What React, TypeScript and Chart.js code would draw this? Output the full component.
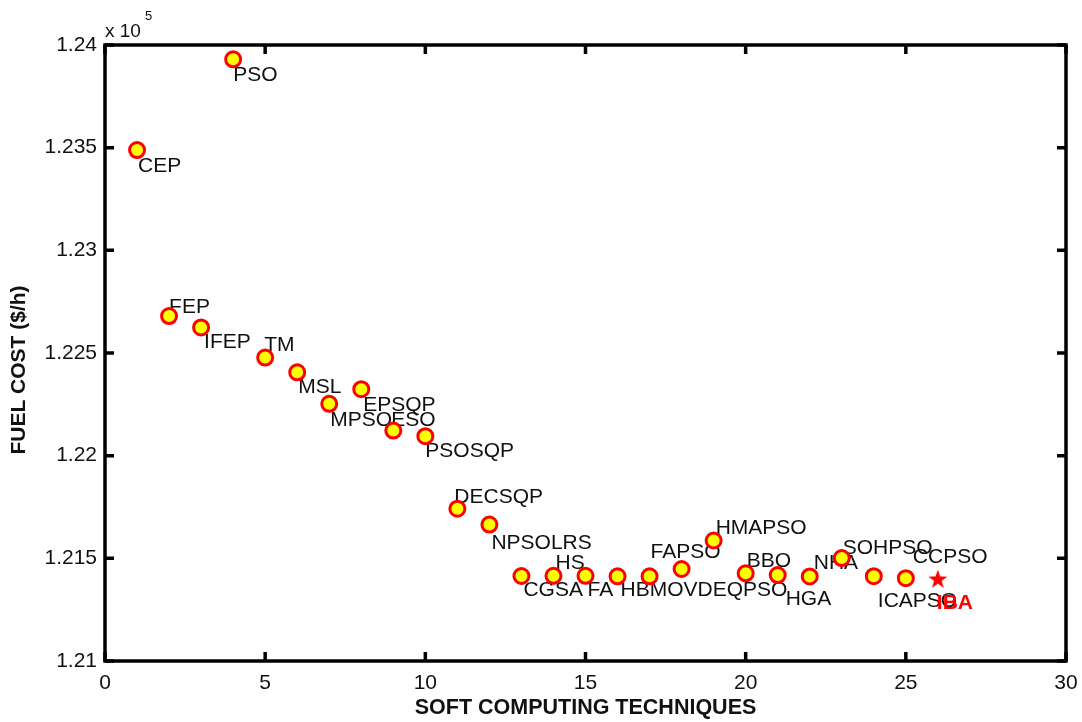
import React, { useEffect, useRef } from 'react';
import { Chart, registerables } from 'chart.js';

Chart.register(...registerables);

// ---- data ----
const techniqueIndex = [1, 2, 3, 4, 5, 6, 7, 8, 9, 10, 11, 12, 13, 14, 15, 16, 17, 18, 19, 20, 21, 22, 23, 24, 25];
const fuelCost = [
  123488.29, 122679.71, 122624.35, 123930.45, 122477.78, 122406.12, 122252.27, 122323.97, 122122.16,
  122094.67, 121741.98, 121664.43, 121414.0, 121415.1, 121415.05, 121412.6, 121412.5, 121448.0,
  121586.9, 121426.95, 121418.3, 121412.0, 121501.14, 121413.2, 121403.5,
];
const techniqueNames = [
  'CEP', 'FEP', 'IFEP', 'PSO', 'TM', 'MSL', 'MPSO', 'EPSQP', 'ESO', 'PSOSQP', 'DECSQP', 'NPSOLRS',
  'CGSA', 'HS', 'FA', 'HBMO', 'VDEQPSO', 'FAPSO', 'HMAPSO', 'BBO', 'HGA', 'NHA', 'SOHPSO', 'ICAPSO', 'CCPSO',
];
const proposedIndex = [26];
const proposedCost = [121400.0];
const proposedName = ['IBA'];

const xMin = 0;
const xMax = 30;
const xStep = 5;
const yMin = 121000;
const yMax = 124000;
const yStep = 500;

const xTitle = 'SOFT COMPUTING TECHNIQUES';
const yTitle = 'FUEL COST ($/h)';

// ---- label layout (style: pixel offsets of each text from its marker) ----
const techniqueLabelOffset: [number, number][] = [
  [1, 22], [0, -3], [3, 21], [0, 22], [-1, -7], [1, 21], [1, 22], [2, 22], [-2, -5], [0, 21],
  [-3, -6], [2, 24], [2, 20], [2, -7], [2, 20], [3, 20], [34, 20], [-31, -11], [2, -6], [1, -6],
  [8, 30], [4, -7], [1, -4], [4, 31], [7, -15],
];
const proposedLabelOffset: [number, number][] = [[-1, 30]];

const FONT = "'Liberation Sans', Arial, Helvetica, sans-serif";

function makeStar(): HTMLCanvasElement {
  const c = document.createElement('canvas');
  const s = 22;
  c.width = s;
  c.height = s;
  const g = c.getContext('2d')!;
  const cx = s / 2;
  const cy = s / 2 + 0.8;
  const R = 10;
  const r = 4.0;
  g.beginPath();
  for (let i = 0; i < 10; i++) {
    const ang = -Math.PI / 2 + (i * Math.PI) / 5;
    const rad = i % 2 === 0 ? R : r;
    const px = cx + rad * Math.cos(ang);
    const py = cy + rad * Math.sin(ang);
    if (i === 0) g.moveTo(px, py);
    else g.lineTo(px, py);
  }
  g.closePath();
  g.fillStyle = '#ff0000';
  g.fill();
  return c;
}

const labelPlugin = {
  id: 'pointLabels',
  beforeDatasetsDraw(chart: any) {
    const ctx = chart.ctx as CanvasRenderingContext2D;
    ctx.save();
    ctx.textBaseline = 'alphabetic';
    ctx.textAlign = 'left';
    chart.data.datasets.forEach((ds: any, di: number) => {
      const meta = chart.getDatasetMeta(di);
      const names: string[] = ds.pointNames || [];
      const offs: [number, number][] = ds.labelOffsets || [];
      ctx.font = ds.labelFont;
      ctx.fillStyle = ds.labelColor;
      meta.data.forEach((el: any, i: number) => {
        const [dx, dy] = offs[i] || [0, 0];
        ctx.fillText(names[i], el.x + dx, el.y + dy);
      });
    });
    ctx.restore();
  },
};

const framePlugin = {
  id: 'matlabFrame',
  afterDraw(chart: any) {
    const ctx = chart.ctx as CanvasRenderingContext2D;
    const { left, right, top, bottom } = chart.chartArea;
    const xs = chart.scales.x;
    const ys = chart.scales.y;
    const tl = 9;
    ctx.save();
    ctx.strokeStyle = '#000';
    ctx.lineWidth = 3.5;
    ctx.lineCap = 'butt';
    ctx.beginPath();
    xs.ticks.forEach((t: any) => {
      const px = xs.getPixelForValue(t.value);
      ctx.moveTo(px, bottom);
      ctx.lineTo(px, bottom - tl);
      ctx.moveTo(px, top);
      ctx.lineTo(px, top + tl);
    });
    ys.ticks.forEach((t: any) => {
      const py = ys.getPixelForValue(t.value);
      ctx.moveTo(left, py);
      ctx.lineTo(left + tl, py);
      ctx.moveTo(right, py);
      ctx.lineTo(right - tl, py);
    });
    ctx.stroke();
    ctx.strokeRect(left, top, right - left, bottom - top);

    // exponent label
    ctx.fillStyle = '#111';
    ctx.textAlign = 'left';
    ctx.textBaseline = 'alphabetic';
    ctx.font = `19px ${FONT}`;
    ctx.fillText('x 10', left, top - 8);
    ctx.font = `13px ${FONT}`;
    ctx.fillText('5', left + 40, top - 25);

    // y axis title
    ctx.translate(19, (top + bottom) / 2 + 17);
    ctx.rotate(-Math.PI / 2);
    ctx.textAlign = 'center';
    ctx.textBaseline = 'middle';
    ctx.font = `bold 21px ${FONT}`;
    ctx.fillText(yTitle, 0, 0);
    ctx.restore();
  },
};

export default function App() {
  const ref = useRef<HTMLCanvasElement | null>(null);

  useEffect(() => {
    if (!ref.current) return;
    const star = makeStar();
    const chart = new Chart(ref.current, {
      type: 'scatter',
      data: {
        datasets: [
          {
            label: 'Techniques',
            data: techniqueIndex.map((x, i) => ({ x, y: fuelCost[i] })),
            pointRadius: 7.5,
            pointHoverRadius: 7.5,
            pointBorderWidth: 3,
            pointBackgroundColor: '#ffff00',
            pointBorderColor: '#ff0000',
            showLine: false,
            pointNames: techniqueNames,
            labelOffsets: techniqueLabelOffset,
            labelFont: `21px ${FONT}`,
            labelColor: '#111',
          } as any,
          {
            label: 'IBA',
            data: proposedIndex.map((x, i) => ({ x, y: proposedCost[i] })),
            pointStyle: star,
            pointRadius: 10,
            showLine: false,
            pointNames: proposedName,
            labelOffsets: proposedLabelOffset,
            labelFont: `bold 21px ${FONT}`,
            labelColor: '#ff0000',
          } as any,
        ],
      },
      options: {
        animation: false,
        responsive: false,
        maintainAspectRatio: false,
        devicePixelRatio: 1,
        layout: { padding: { left: 0, right: 16, top: 45, bottom: 0 } },
        plugins: {
          legend: { display: false },
          tooltip: { enabled: false },
        },
        scales: {
          x: {
            type: 'linear',
            min: xMin,
            max: xMax,
            grid: { display: false },
            border: { display: false },
            ticks: {
              stepSize: xStep,
              color: '#111',
              font: { family: FONT, size: 21 },
              padding: 2,
              maxRotation: 0,
            },
            title: {
              display: true,
              text: xTitle,
              color: '#111',
              font: { family: FONT, size: 21.5, weight: 'bold' },
              padding: { top: 1, bottom: 1 },
            },
            afterFit: (s: any) => {
              s.height = 61;
              s.paddingLeft = 0;
              s.paddingRight = 0;
            },
          },
          y: {
            type: 'linear',
            min: yMin,
            max: yMax,
            grid: { display: false },
            border: { display: false },
            ticks: {
              stepSize: yStep,
              color: '#111',
              font: { family: FONT, size: 21 },
              padding: 0,
              callback: (v: any) => parseFloat((Number(v) / 1e5).toFixed(3)).toString(),
            },
            title: { display: false },
            afterFit: (s: any) => {
              s.width = 105;
              s.paddingTop = 0;
              s.paddingBottom = 0;
            },
          },
        },
      },
      plugins: [labelPlugin, framePlugin],
    });
    return () => chart.destroy();
  }, []);

  return (
    <div style={{ position: 'fixed', left: 0, top: 0, width: 1082, height: 722, background: '#fff' }}>
      <canvas ref={ref} width={1082} height={722} style={{ display: 'block', width: 1082, height: 722 }} />
    </div>
  );
}
